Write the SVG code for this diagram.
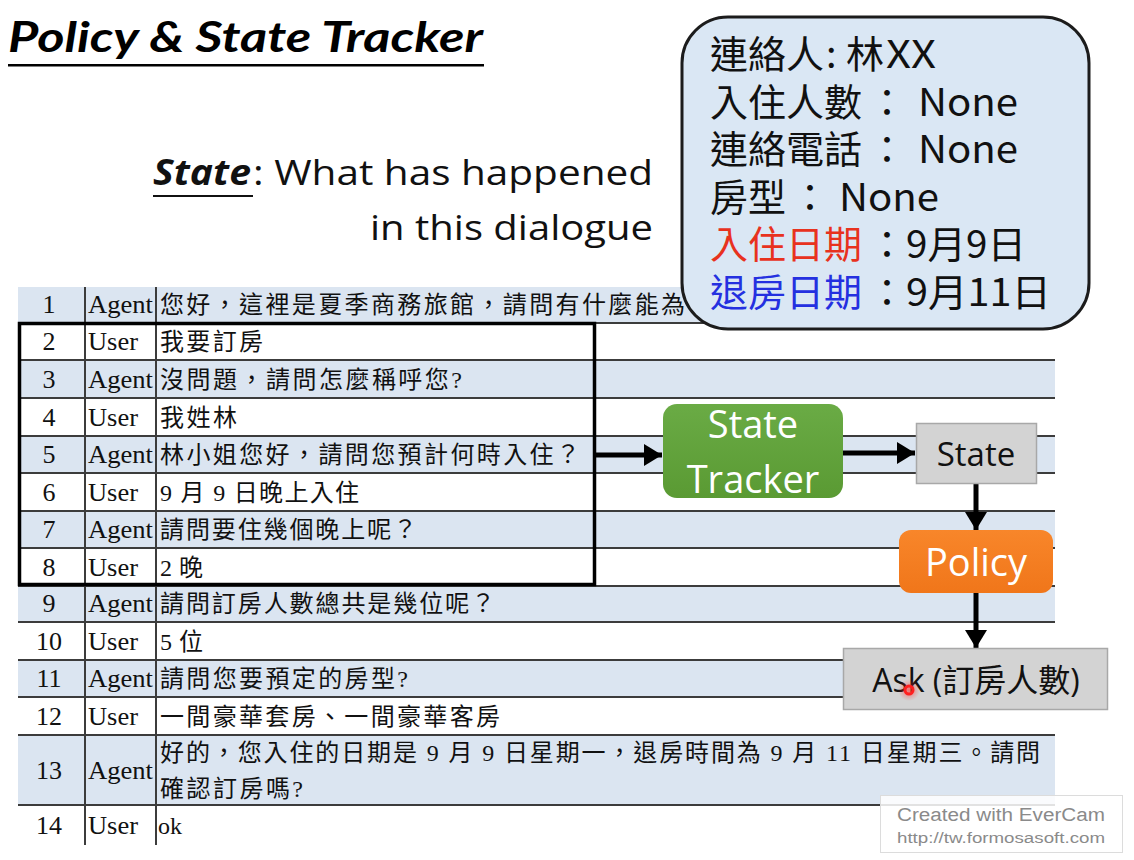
<svg xmlns="http://www.w3.org/2000/svg" width="1134" height="860" viewBox="0 0 1134 860">
  <defs>
    <style>
      .title { font-family: Lato, "Open Sans", sans-serif; font-weight: bold; font-style: italic; font-size: 42px; fill: #000; }
      .sub { font-family: "Open Sans", "Noto Sans", sans-serif; font-size: 35px; fill: #111; }
      .subb { font-family: "Open Sans", "Noto Sans", sans-serif; font-size: 35px; font-weight: bold; font-style: italic; fill: #111; }
      .shade { fill: #dbe5f1; }
      .rule { stroke: #3c3c3c; stroke-width: 2; }
      .num { font-family: "Liberation Serif", serif; font-size: 26px; fill: #111; text-anchor: middle; }
      .who { font-family: "Liberation Serif", serif; font-size: 25px; fill: #111; }
      .msg { font-family: "Liberation Serif", "Noto Sans CJK TC", serif; font-size: 24px; fill: #111; }
      .info { font-family: "Noto Sans CJK TC", "Noto Sans", sans-serif; font-size: 38px; fill: #111; }
      .wl { font-family: "Open Sans", "Noto Sans", sans-serif; fill: #fff; text-anchor: middle; }
      .bl { font-family: "Open Sans", "Noto Sans CJK TC", sans-serif; fill: #111; text-anchor: middle; }
      .conn { stroke: #000; stroke-width: 5; fill: none; }
      .wm { font-family: "Liberation Sans Narrow", "Liberation Sans", sans-serif; fill: #8a8a8a; }
    </style>
    <marker id="head" markerUnits="userSpaceOnUse" markerWidth="20" markerHeight="22" refX="18" refY="11" orient="auto">
      <path d="M0,0 L18,11 L0,22 Z" fill="#000"/>
    </marker>
    <linearGradient id="green" x1="0" y1="0" x2="0" y2="1">
      <stop offset="0" stop-color="#6aab45"/>
      <stop offset="1" stop-color="#5a9a33"/>
    </linearGradient>
    <linearGradient id="orange" x1="0" y1="0" x2="0" y2="1">
      <stop offset="0" stop-color="#f8862a"/>
      <stop offset="1" stop-color="#f0761a"/>
    </linearGradient>
    <radialGradient id="glow">
      <stop offset="0" stop-color="#ff3030" stop-opacity="0.6"/>
      <stop offset="1" stop-color="#ff3030" stop-opacity="0"/>
    </radialGradient>
  </defs>

  <rect width="1134" height="860" fill="#fff"/>

  <!-- heading -->
  <g id="title">
    <text class="title" x="8" y="52" textLength="475" lengthAdjust="spacingAndGlyphs">Policy &amp; State Tracker</text>
    <rect x="8" y="64" width="476" height="2.5" fill="#000"/>
  </g>

  <g id="state-caption">
    <text class="subb" x="153" y="185" textLength="98" lengthAdjust="spacingAndGlyphs">State</text>
    <rect x="153" y="195" width="100" height="2" fill="#111"/>
    <text class="sub" x="253" y="185" textLength="400" lengthAdjust="spacingAndGlyphs">: What has happened</text>
    <text class="sub" x="370" y="240" textLength="283" lengthAdjust="spacingAndGlyphs">in this dialogue</text>
  </g>

  <!-- dialogue table -->
  <g id="table">
    <rect class="shade" x="18" y="287" width="1037" height="36"/>
    <rect class="shade" x="18" y="360" width="1037" height="38"/>
    <rect class="shade" x="18" y="436" width="1037" height="37"/>
    <rect class="shade" x="18" y="511" width="1037" height="37"/>
    <rect class="shade" x="18" y="586" width="1037" height="36"/>
    <rect class="shade" x="18" y="660" width="1037" height="37"/>
    <rect class="shade" x="18" y="735" width="1037" height="70"/>

    <line class="rule" x1="18" y1="323" x2="1055" y2="323"/>
    <line class="rule" x1="18" y1="360" x2="1055" y2="360"/>
    <line class="rule" x1="18" y1="398" x2="1055" y2="398"/>
    <line class="rule" x1="18" y1="436" x2="1055" y2="436"/>
    <line class="rule" x1="18" y1="473" x2="1055" y2="473"/>
    <line class="rule" x1="18" y1="511" x2="1055" y2="511"/>
    <line class="rule" x1="18" y1="548" x2="1055" y2="548"/>
    <line class="rule" x1="18" y1="586" x2="1055" y2="586"/>
    <line class="rule" x1="18" y1="622" x2="1055" y2="622"/>
    <line class="rule" x1="18" y1="660" x2="1055" y2="660"/>
    <line class="rule" x1="18" y1="697" x2="1055" y2="697"/>
    <line class="rule" x1="18" y1="735" x2="1055" y2="735"/>
    <line class="rule" x1="18" y1="805" x2="1055" y2="805"/>
    <line class="rule" x1="85" y1="287" x2="85" y2="845"/>
    <line class="rule" x1="156" y1="287" x2="156" y2="845"/>

    <text class="num" x="49" y="313">1</text>
    <text class="num" x="49" y="350">2</text>
    <text class="num" x="49" y="388">3</text>
    <text class="num" x="49" y="426">4</text>
    <text class="num" x="49" y="463">5</text>
    <text class="num" x="49" y="501">6</text>
    <text class="num" x="49" y="538">7</text>
    <text class="num" x="49" y="576">8</text>
    <text class="num" x="49" y="612">9</text>
    <text class="num" x="49" y="650">10</text>
    <text class="num" x="49" y="687">11</text>
    <text class="num" x="49" y="725">12</text>
    <text class="num" x="49" y="779">13</text>
    <text class="num" x="49" y="834">14</text>

    <text class="who" x="88" y="313" textLength="65" lengthAdjust="spacingAndGlyphs">Agent</text>
    <text class="who" x="88" y="350" textLength="50" lengthAdjust="spacingAndGlyphs">User</text>
    <text class="who" x="88" y="388" textLength="65" lengthAdjust="spacingAndGlyphs">Agent</text>
    <text class="who" x="88" y="426" textLength="50" lengthAdjust="spacingAndGlyphs">User</text>
    <text class="who" x="88" y="463" textLength="65" lengthAdjust="spacingAndGlyphs">Agent</text>
    <text class="who" x="88" y="501" textLength="50" lengthAdjust="spacingAndGlyphs">User</text>
    <text class="who" x="88" y="538" textLength="65" lengthAdjust="spacingAndGlyphs">Agent</text>
    <text class="who" x="88" y="576" textLength="50" lengthAdjust="spacingAndGlyphs">User</text>
    <text class="who" x="88" y="612" textLength="65" lengthAdjust="spacingAndGlyphs">Agent</text>
    <text class="who" x="88" y="650" textLength="50" lengthAdjust="spacingAndGlyphs">User</text>
    <text class="who" x="88" y="687" textLength="65" lengthAdjust="spacingAndGlyphs">Agent</text>
    <text class="who" x="88" y="725" textLength="50" lengthAdjust="spacingAndGlyphs">User</text>
    <text class="who" x="88" y="779" textLength="65" lengthAdjust="spacingAndGlyphs">Agent</text>
    <text class="who" x="88" y="834" textLength="50" lengthAdjust="spacingAndGlyphs">User</text>

    <text class="msg" x="160" y="313" textLength="525" lengthAdjust="spacing">您好，這裡是夏季商務旅館，請問有什麼能為</text>
    <text class="msg" x="160" y="350" textLength="103" lengthAdjust="spacing">我要訂房</text>
    <text class="msg" x="160" y="388" textLength="302" lengthAdjust="spacing">沒問題，請問怎麼稱呼您?</text>
    <text class="msg" x="160" y="426" textLength="77" lengthAdjust="spacing">我姓林</text>
    <text class="msg" x="160" y="463" textLength="420" lengthAdjust="spacing">林小姐您好，請問您預計何時入住？</text>
    <text class="msg" x="160" y="501" textLength="199" lengthAdjust="spacing">9 月 9 日晚上入住</text>
    <text class="msg" x="160" y="538" textLength="257" lengthAdjust="spacing">請問要住幾個晚上呢？</text>
    <text class="msg" x="160" y="576" textLength="43" lengthAdjust="spacing">2 晚</text>
    <text class="msg" x="160" y="612" textLength="335" lengthAdjust="spacing">請問訂房人數總共是幾位呢？</text>
    <text class="msg" x="160" y="650" textLength="43" lengthAdjust="spacing">5 位</text>
    <text class="msg" x="160" y="687" textLength="248" lengthAdjust="spacing">請問您要預定的房型?</text>
    <text class="msg" x="160" y="725" textLength="340" lengthAdjust="spacing">一間豪華套房、一間豪華客房</text>
    <text class="msg" x="160" y="761" textLength="880" lengthAdjust="spacing">好的，您入住的日期是 9 月 9 日星期一，退房時間為 9 月 11 日星期三。請問</text>
    <text class="msg" x="160" y="797" textLength="143" lengthAdjust="spacing">確認訂房嗎?</text>
    <text class="msg" x="158" y="834" font-size="26">ok</text>
  </g>

  <!-- turns fed to the tracker -->
  <g id="history-box">
    <rect x="19.5" y="323.5" width="575" height="261" fill="none" stroke="#000" stroke-width="3.5"/>
  </g>

  <!-- slot values -->
  <g id="state-info">
    <rect x="682" y="17" width="407" height="312" rx="46" ry="46" fill="#dae7f4" stroke="#1c1c1c" stroke-width="3"/>
    <text class="info" x="710" y="68">連絡人<tspan x="826">:</tspan><tspan x="846">林</tspan><tspan x="886" textLength="50" lengthAdjust="spacingAndGlyphs">XX</tspan></text>
    <text class="info" x="710" y="116">入住人數<tspan x="868">：</tspan><tspan x="918" textLength="100" lengthAdjust="spacingAndGlyphs">None</tspan></text>
    <text class="info" x="710" y="163">連絡電話<tspan x="868">：</tspan><tspan x="918" textLength="100" lengthAdjust="spacingAndGlyphs">None</tspan></text>
    <text class="info" x="710" y="211">房型<tspan x="791">：</tspan><tspan x="839" textLength="100" lengthAdjust="spacingAndGlyphs">None</tspan></text>
    <text class="info" x="710" y="258"><tspan fill="#e8321e">入住日期</tspan><tspan x="868">：</tspan><tspan x="906" textLength="120" lengthAdjust="spacingAndGlyphs">9月9日</tspan></text>
    <text class="info" x="710" y="306"><tspan fill="#2430e0">退房日期</tspan><tspan x="868">：</tspan><tspan x="906" textLength="145" lengthAdjust="spacingAndGlyphs">9月11日</tspan></text>
  </g>

  <!-- connectors -->
  <g id="connectors">
    <line class="conn" x1="596" y1="455" x2="662" y2="455" marker-end="url(#head)"/>
    <line class="conn" x1="843" y1="453" x2="915" y2="453" marker-end="url(#head)"/>
    <line class="conn" x1="976" y1="483" x2="976" y2="530" marker-end="url(#head)"/>
    <line class="conn" x1="976" y1="593" x2="976" y2="648" marker-end="url(#head)"/>
  </g>

  <g id="state-tracker">
    <rect x="663" y="404" width="180" height="94" rx="14" ry="14" fill="url(#green)"/>
    <text class="wl" x="753" y="438" font-size="38">State</text>
    <text class="wl" x="753" y="493" font-size="38">Tracker</text>
  </g>

  <g id="state">
    <rect x="916.5" y="423.5" width="120" height="60" fill="#d3d3d3" stroke="#a8a8a8" stroke-width="1.5"/>
    <text class="bl" x="976" y="466" font-size="33">State</text>
  </g>

  <g id="policy">
    <rect x="899" y="530" width="154" height="63" rx="12" ry="12" fill="url(#orange)"/>
    <text class="wl" x="976" y="576" font-size="38">Policy</text>
  </g>

  <g id="ask">
    <rect x="843.5" y="648.5" width="264" height="61" fill="#d3d3d3" stroke="#a8a8a8" stroke-width="1.5"/>
    <text class="bl" x="976" y="692" font-size="32">Ask (訂房人數)</text>
    <circle cx="909" cy="690" r="11" fill="url(#glow)"/>
    <circle cx="909" cy="690" r="4" fill="none" stroke="#ff2020" stroke-width="3"/>
  </g>

  <g id="watermark">
    <rect x="880.5" y="795.5" width="242" height="57" fill="#fff" fill-opacity="0.85" stroke="#dcdcdc"/>
    <text class="wm" x="897" y="821" font-size="18" textLength="208" lengthAdjust="spacingAndGlyphs">Created with EverCam</text>
    <text class="wm" x="897" y="843" font-size="14" textLength="208" lengthAdjust="spacingAndGlyphs">http://tw.formosasoft.com</text>
  </g>
</svg>
